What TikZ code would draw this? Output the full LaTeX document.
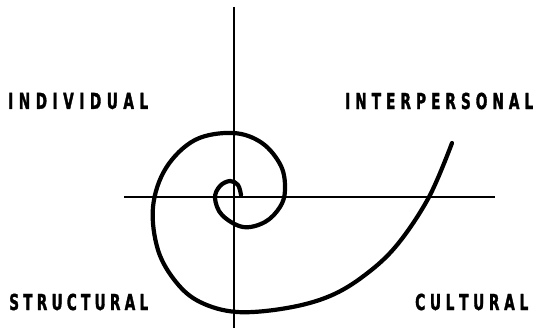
\documentclass[tikz,border=0pt]{standalone}
\usepackage{fontspec}
\newfontfamily\labfont{DejaVu Sans}[FakeStretch=0.62,FakeBold=1.5]
\begin{document}
\begin{tikzpicture}[x=1pt,y=-1pt,
  axis/.style={line width=1.9pt,black},
  spiral/.style={line width=4.2pt,black,line cap=round,line join=round},
  lab/.style={inner sep=0pt,font=\labfont\bfseries\fontsize{22}{24}\selectfont}]
\useasboundingbox (0,0) rectangle (539,329);
\coordinate (vtop) at (234,7);
\coordinate (vbot) at (234,328);
\coordinate (hl) at (124,197);
\coordinate (hr) at (495,197);
\draw[axis] (vtop) -- (vbot);
\draw[axis] (hl) -- (hr);
\draw[spiral] plot[smooth,tension=0.6] coordinates {
 (241,195) (238,185) (230,181) (220,186) (215,198) (222,215) (243,227) (265,222)
 (280,207) (285,190) (281,166) (262,143) (233,133) (195,140) (166,168)
 (153,207) (158,250) (176,282) (200,302) (237,312) (287,308) (330,296) (365,275) (397,245) (429,197) (452,143)};
\node[lab,anchor=west] (ind) at (8,101) {\makebox[140pt][s]{I\hfil N\hfil D\hfil I\hfil V\hfil I\hfil D\hfil U\hfil A\hfil L}};
\node[lab,anchor=west] (inter) at (345,101) {\makebox[188pt][s]{I\hfil N\hfil T\hfil E\hfil R\hfil P\hfil E\hfil R\hfil S\hfil O\hfil N\hfil A\hfil L}};
\node[lab,anchor=west] (str) at (9,302) {\makebox[139pt][s]{S\hfil T\hfil R\hfil U\hfil C\hfil T\hfil U\hfil R\hfil A\hfil L}};
\node[lab,anchor=west] (cul) at (415,302) {\makebox[113pt][s]{C\hfil U\hfil L\hfil T\hfil U\hfil R\hfil A\hfil L}};
\end{tikzpicture}
\end{document}
